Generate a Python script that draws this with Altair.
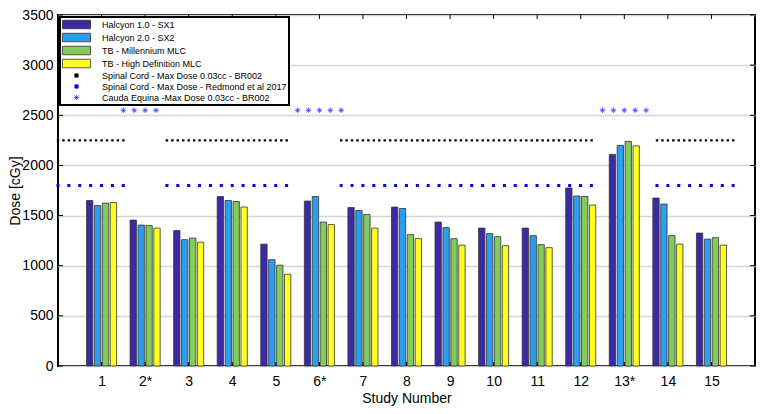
import json
import altair as alt
import pandas as pd

# ---------------- data ----------------
study_numbers = list(range(1, 16))
study_labels = ["1", "2*", "3", "4", "5", "6*", "7", "8", "9", "10", "11", "12", "13*", "14", "15"]

bar_series = ["Halcyon 1.0 - SX1", "Halcyon 2.0 - SX2", "TB - Millennium MLC", "TB - High Definition MLC"]
halcyon_1 = [1650, 1455, 1350, 1690, 1215, 1645, 1580, 1585, 1435, 1375, 1375, 1775, 2110, 1675, 1325]
halcyon_2 = [1600, 1405, 1260, 1650, 1060, 1690, 1550, 1570, 1380, 1320, 1300, 1695, 2200, 1615, 1265]
tb_millennium = [1625, 1400, 1275, 1640, 1005, 1435, 1510, 1310, 1270, 1290, 1210, 1690, 2240, 1300, 1280]
tb_high_def = [1630, 1375, 1235, 1585, 915, 1410, 1375, 1270, 1205, 1200, 1180, 1605, 2195, 1215, 1205]

limit_series = [
    "Spinal Cord - Max Dose 0.03cc - BR002",
    "Spinal Cord - Max Dose - Redmond et al 2017",
    "Cauda Equina -Max Dose 0.03cc - BR002",
]
cord_br002_dose = 2250
cord_redmond_dose = 1800
cauda_br002_dose = 2550
cord_from = [0, 2.5, 6.5, 13.75]
cord_to = [1.5, 5.25, 12.25, 15.5]
cauda_x = [1.5, 1.75, 2.0, 2.25, 5.5, 5.75, 6.0, 6.25, 6.5, 12.5, 12.75, 13.0, 13.25, 13.5]

y_ticks = [0, 500, 1000, 1500, 2000, 2500, 3000, 3500]

# ---------------- styling ----------------
W, H = 697, 351
FONT = "Liberation Sans"
all_series = bar_series + limit_series
fill_colors = ["#3b2aa6", "#2b9ef0", "#82cb5c", "#ffff1e", "#000000", "#0000ff", "#3a3aff"]
stroke_colors = ["#333333", "#333333", "#333333", "#333333", "#000000", "#0000ff", "#3a3aff"]
RECT = "M-2.8,-0.85H2.8V0.85H-2.8Z"
SQR = "M-0.33,-0.33H0.33V0.33H-0.33Z"
AST = "M0,-0.55V0.55M-0.55,0H0.55M-0.39,-0.39L0.39,0.39M-0.39,0.39L0.39,-0.39"
shapes = [RECT, RECT, RECT, RECT, SQR, SQR, AST]

# grouped bar layout (MATLAB style)
group_w = 0.727
bar_w = group_w / 4 * 0.8

rows = []
for j, (name, vals) in enumerate(zip(bar_series, [halcyon_1, halcyon_2, tb_millennium, tb_high_def])):
    for s, v in zip(study_numbers, vals):
        c = s + (j - 1.5) * group_w / 4
        rows.append({"series": name, "study": s, "dose": v, "x0": c - bar_w / 2, "x1": c + bar_w / 2})
bars_df = pd.DataFrame(rows)

black_df = pd.DataFrame({"x_from": cord_from, "x_to": cord_to, "dose": [cord_br002_dose] * len(cord_from)})
blue_df = pd.DataFrame({"x_from": cord_from, "x_to": cord_to, "dose": [cord_redmond_dose] * len(cord_from)})
stars_df = pd.DataFrame({"x": cauda_x, "dose": [cauda_br002_dose] * len(cauda_x), "series": [limit_series[2]] * len(cauda_x)})
ytick_df = pd.DataFrame({"v": y_ticks})
xtick_df = pd.DataFrame({"s": study_numbers})

px_per_unit = W / 16.0

xs = alt.Scale(domain=[0, 16], nice=False, zero=False)
ys = alt.Scale(domain=[0, 3500], nice=False)

color_scale = alt.Scale(domain=all_series, range=fill_colors)
stroke_scale = alt.Scale(domain=all_series, range=stroke_colors)
shape_scale = alt.Scale(domain=all_series, range=shapes)

legend = alt.Legend(
    title=None, orient="top-left", offset=2, padding=2, symbolSize=100,
    symbolOffset=9, labelOffset=20, labelFontSize=9, labelFont=FONT, labelLimit=400,
    rowPadding=0, fillColor="white", strokeColor="black", symbolStrokeWidth=0.8,
)

x_axis = alt.Axis(
    values=study_numbers, labelExpr=json.dumps(study_labels) + "[datum.value - 1]",
    grid=False, ticks=False, domain=False, labelFontSize=14, labelPadding=8,
    labelFlush=False, labelOverlap=False, title="Study Number", titleFontSize=14,
    titleFontWeight="normal", titlePadding=3,
)
y_axis = alt.Axis(
    values=y_ticks, format="d", grid=True, gridColor="#d6d6d6", gridWidth=1.5, ticks=False,
    domain=False, labelFontSize=14, labelPadding=5, labelFlush=False,
    title="Dose [cGy]", titleFontSize=14, titleFontWeight="normal",
    titleX=-50, titleY=H / 2, titleAngle=270, titleBaseline="top", titleAlign="center",
)

bars = alt.Chart(bars_df).mark_bar(strokeWidth=0.8).encode(
    x=alt.X("x0:Q", scale=xs, axis=x_axis),
    x2="x1:Q",
    y=alt.Y("dose:Q", scale=ys, axis=y_axis),
    y2=alt.datum(0),
    color=alt.Color("series:N", scale=color_scale, legend=legend),
    stroke=alt.Stroke("series:N", scale=stroke_scale, legend=legend),
)

black_line = alt.Chart(black_df).mark_rule(
    stroke="black", strokeWidth=2.4, strokeCap="square",
    strokeDash=[0.01, 0.125 * px_per_unit - 0.01],
).encode(x="x_from:Q", x2="x_to:Q", y="dose:Q")

blue_line = alt.Chart(blue_df).mark_rule(
    stroke="#0000ff", strokeWidth=3, strokeCap="square",
    strokeDash=[0.01, 0.25 * px_per_unit - 0.02],
).encode(x="x_from:Q", x2="x_to:Q", y="dose:Q")

stars = alt.Chart(stars_df).mark_point(filled=False, opacity=1, size=100, strokeWidth=0.8).encode(
    x="x:Q",
    y="dose:Q",
    shape=alt.Shape("series:N", scale=shape_scale, legend=legend),
    stroke=alt.Stroke("series:N", scale=stroke_scale, legend=legend),
)

left_ticks = alt.Chart(ytick_df).mark_rule(color="black", strokeWidth=1).encode(
    y="v:Q", x=alt.value(0), x2=alt.value(5))
right_ticks = alt.Chart(ytick_df).mark_rule(color="black", strokeWidth=1).encode(
    y="v:Q", x=alt.value(W - 5), x2=alt.value(W))
bottom_ticks = alt.Chart(xtick_df).mark_rule(color="black", strokeWidth=1).encode(
    x="s:Q", y=alt.value(H - 4), y2=alt.value(H))
top_ticks = alt.Chart(xtick_df).mark_rule(color="black", strokeWidth=1).encode(
    x="s:Q", y=alt.value(0), y2=alt.value(4))

chart = alt.layer(
    bars, black_line, blue_line, stars, left_ticks, right_ticks, bottom_ticks, top_ticks
).properties(
    width=W, height=H,
    autosize=alt.AutoSizeParams(type="none"),
    padding={"left": 50, "top": 7, "right": 1, "bottom": 40},
).configure(font=FONT).configure_view(
    stroke="black", strokeWidth=2
).configure_legend(strokeWidth=2)

chart.save("out.html", embed_options={"renderer": "svg", "actions": False})
